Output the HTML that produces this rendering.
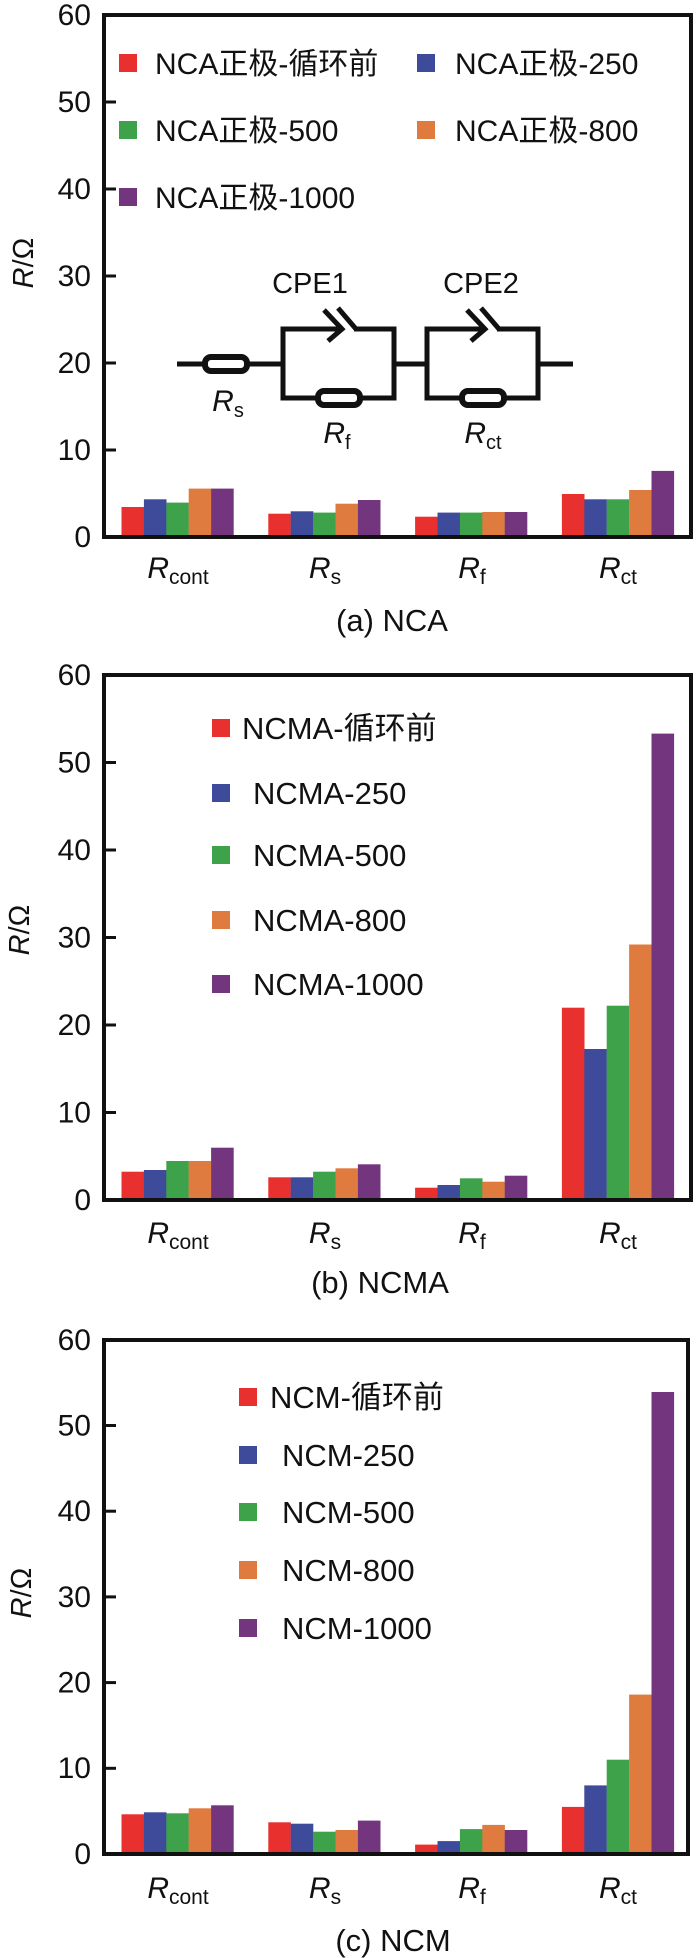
<!DOCTYPE html>
<html><head><meta charset="utf-8"><style>
html,body{margin:0;padding:0;background:#fff;}
svg{display:block;}
text{font-family:"Liberation Sans","Noto Sans CJK SC",sans-serif;fill:#111;}
.t{font-size:30px;text-anchor:end;}
.lg{font-size:30px;}
.lgb{font-size:31px;}
.xl{font-size:30px;text-anchor:middle;}
.cap{font-size:31px;text-anchor:middle;}
.r{fill:#e8312f}.b{fill:#3e4a9a}.g{fill:#3ea24a}.o{fill:#e07b3f}.p{fill:#74357f}
.ax{fill:none;stroke:#111;stroke-width:4}
.tk{stroke:#111;stroke-width:3}
.c{fill:none;stroke:#111;stroke-width:5;stroke-linejoin:miter}
</style></head><body>
<svg width="700" height="1958" viewBox="0 0 700 1958" xmlns="http://www.w3.org/2000/svg">
<rect width="700" height="1958" fill="#fff"/>

<!-- ===== Panel A ===== -->
<g>
<rect class="r" x="121.5" y="507" width="22.6" height="30"/>
<rect class="b" x="143.9" y="499.3" width="22.6" height="37.7"/>
<rect class="g" x="166.3" y="502.6" width="22.6" height="34.4"/>
<rect class="o" x="188.7" y="488.6" width="22.6" height="48.4"/>
<rect class="p" x="211.1" y="488.6" width="22.6" height="48.4"/>
<rect class="r" x="268.3" y="513.7" width="22.6" height="23.3"/>
<rect class="b" x="290.7" y="511.3" width="22.6" height="25.7"/>
<rect class="g" x="313.1" y="512.6" width="22.6" height="24.4"/>
<rect class="o" x="335.5" y="503.7" width="22.6" height="33.3"/>
<rect class="p" x="357.9" y="500" width="22.6" height="37"/>
<rect class="r" x="415.1" y="516.7" width="22.6" height="20.3"/>
<rect class="b" x="437.5" y="512.6" width="22.6" height="24.4"/>
<rect class="g" x="459.9" y="512.6" width="22.6" height="24.4"/>
<rect class="o" x="482.3" y="512" width="22.6" height="25"/>
<rect class="p" x="504.7" y="512" width="22.6" height="25"/>
<rect class="r" x="561.9" y="494" width="22.6" height="43"/>
<rect class="b" x="584.3" y="499.3" width="22.6" height="37.7"/>
<rect class="g" x="606.7" y="499.3" width="22.6" height="37.7"/>
<rect class="o" x="629.1" y="490" width="22.6" height="47"/>
<rect class="p" x="651.5" y="470.9" width="22.6" height="66.1"/>
<rect class="ax" x="104" y="15" width="587" height="522"/>
<line class="tk" x1="104" x2="116" y1="450" y2="450"/><line class="tk" x1="104" x2="116" y1="363" y2="363"/>
<line class="tk" x1="104" x2="116" y1="276" y2="276"/><line class="tk" x1="104" x2="116" y1="189" y2="189"/>
<line class="tk" x1="104" x2="116" y1="102" y2="102"/>
<text class="t" x="91" y="547">0</text><text class="t" x="91" y="460">10</text><text class="t" x="91" y="373">20</text>
<text class="t" x="91" y="286">30</text><text class="t" x="91" y="199">40</text><text class="t" x="91" y="112">50</text><text class="t" x="91" y="25">60</text>
<text transform="translate(33,263) rotate(-90)" style="font-size:29px;text-anchor:middle"><tspan font-style="italic">R</tspan>/Ω</text>
<!-- legend -->
<rect class="r" x="119" y="54" width="18" height="18"/><text class="lg" x="155" y="74">NCA正极-循环前</text>
<rect class="b" x="417" y="54" width="18" height="18"/><text class="lg" x="455" y="74">NCA正极-250</text>
<rect class="g" x="119" y="121" width="18" height="18"/><text class="lg" x="155" y="141">NCA正极-500</text>
<rect class="o" x="417" y="121" width="18" height="18"/><text class="lg" x="455" y="141">NCA正极-800</text>
<rect class="p" x="119" y="188" width="18" height="18"/><text class="lg" x="155" y="208">NCA正极-1000</text>
<!-- circuit -->
<line class="c" x1="177" y1="364" x2="283" y2="364"/>
<rect x="205" y="357" width="42" height="14" rx="6" fill="#fff" stroke="#111" stroke-width="6"/>
<path class="c" d="M283,364 V398 H394 V329 H354 M340,329 H283 V364"/>
<path class="c" d="M324,310 L342,329 L328,341 M338,308 L356,329"/>
<rect x="318" y="391" width="42" height="14" rx="6" fill="#fff" stroke="#111" stroke-width="6"/>
<line class="c" x1="394" y1="364" x2="427" y2="364"/>
<path class="c" d="M427,364 V398 H538 V329 H497 M483,329 H427 V364"/>
<path class="c" d="M467,310 L485,329 L471,341 M481,308 L499,329"/>
<rect x="462" y="391" width="42" height="14" rx="6" fill="#fff" stroke="#111" stroke-width="6"/>
<line class="c" x1="538" y1="364" x2="573" y2="364"/>
<text x="310" y="293" style="font-size:29px;text-anchor:middle">CPE1</text>
<text x="481" y="293" style="font-size:29px;text-anchor:middle">CPE2</text>
<text x="228" y="411" class="xl"><tspan font-style="italic">R</tspan><tspan font-size="20" dy="6">s</tspan></text>
<text x="337" y="443" class="xl"><tspan font-style="italic">R</tspan><tspan font-size="20" dy="6">f</tspan></text>
<text x="483" y="443" class="xl"><tspan font-style="italic">R</tspan><tspan font-size="20" dy="6">ct</tspan></text>
<!-- x labels -->
<text x="178" y="578" class="xl"><tspan font-style="italic">R</tspan><tspan font-size="21" dy="6">cont</tspan></text>
<text x="325" y="578" class="xl"><tspan font-style="italic">R</tspan><tspan font-size="21" dy="6">s</tspan></text>
<text x="472" y="578" class="xl"><tspan font-style="italic">R</tspan><tspan font-size="21" dy="6">f</tspan></text>
<text x="618" y="578" class="xl"><tspan font-style="italic">R</tspan><tspan font-size="21" dy="6">ct</tspan></text>
<text x="392" y="631" class="cap">(a) NCA</text>
</g>

<!-- ===== Panel B ===== -->
<g>
<rect class="r" x="121.5" y="1171.7" width="22.6" height="28.3"/>
<rect class="b" x="143.9" y="1170" width="22.6" height="30"/>
<rect class="g" x="166.3" y="1161" width="22.6" height="39"/>
<rect class="o" x="188.7" y="1161" width="22.6" height="39"/>
<rect class="p" x="211.1" y="1147.7" width="22.6" height="52.3"/>
<rect class="r" x="268.3" y="1177.3" width="22.6" height="22.7"/>
<rect class="b" x="290.7" y="1177.3" width="22.6" height="22.7"/>
<rect class="g" x="313.1" y="1171.7" width="22.6" height="28.3"/>
<rect class="o" x="335.5" y="1168.3" width="22.6" height="31.7"/>
<rect class="p" x="357.9" y="1164.3" width="22.6" height="35.7"/>
<rect class="r" x="415.1" y="1187.7" width="22.6" height="12.3"/>
<rect class="b" x="437.5" y="1185" width="22.6" height="15"/>
<rect class="g" x="459.9" y="1178.3" width="22.6" height="21.7"/>
<rect class="o" x="482.3" y="1181.7" width="22.6" height="18.3"/>
<rect class="p" x="504.7" y="1175.7" width="22.6" height="24.3"/>
<rect class="r" x="561.9" y="1007.7" width="22.6" height="192.3"/>
<rect class="b" x="584.3" y="1049" width="22.6" height="151"/>
<rect class="g" x="606.7" y="1005.7" width="22.6" height="194.3"/>
<rect class="o" x="629.1" y="944.5" width="22.6" height="255.5"/>
<rect class="p" x="651.5" y="733.6" width="22.6" height="466.4"/>
<rect class="ax" x="104" y="675" width="587" height="525"/>
<line class="tk" x1="104" x2="116" y1="1112.5" y2="1112.5"/><line class="tk" x1="104" x2="116" y1="1025" y2="1025"/>
<line class="tk" x1="104" x2="116" y1="937.5" y2="937.5"/><line class="tk" x1="104" x2="116" y1="850" y2="850"/>
<line class="tk" x1="104" x2="116" y1="762.5" y2="762.5"/>
<text class="t" x="91" y="1210">0</text><text class="t" x="91" y="1122.5">10</text><text class="t" x="91" y="1035">20</text>
<text class="t" x="91" y="947.5">30</text><text class="t" x="91" y="860">40</text><text class="t" x="91" y="772.5">50</text><text class="t" x="91" y="685">60</text>
<text transform="translate(29,930) rotate(-90)" style="font-size:29px;text-anchor:middle"><tspan font-style="italic">R</tspan>/Ω</text>
<rect class="r" x="212" y="719" width="18" height="18"/><text class="lgb" x="242" y="739">NCMA-循环前</text>
<rect class="b" x="212" y="784" width="18" height="18"/><text class="lgb" x="253" y="804">NCMA-250</text>
<rect class="g" x="212" y="846" width="18" height="18"/><text class="lgb" x="253" y="866">NCMA-500</text>
<rect class="o" x="212" y="911" width="18" height="18"/><text class="lgb" x="253" y="931">NCMA-800</text>
<rect class="p" x="212" y="975" width="18" height="18"/><text class="lgb" x="253" y="995">NCMA-1000</text>
<text x="178" y="1243" class="xl"><tspan font-style="italic">R</tspan><tspan font-size="21" dy="6">cont</tspan></text>
<text x="325" y="1243" class="xl"><tspan font-style="italic">R</tspan><tspan font-size="21" dy="6">s</tspan></text>
<text x="472" y="1243" class="xl"><tspan font-style="italic">R</tspan><tspan font-size="21" dy="6">f</tspan></text>
<text x="618" y="1243" class="xl"><tspan font-style="italic">R</tspan><tspan font-size="21" dy="6">ct</tspan></text>
<text x="380" y="1293" class="cap">(b) NCMA</text>
</g>

<!-- ===== Panel C ===== -->
<g>
<rect class="r" x="121.5" y="1814.3" width="22.6" height="39.7"/>
<rect class="b" x="143.9" y="1812.3" width="22.6" height="41.7"/>
<rect class="g" x="166.3" y="1813.3" width="22.6" height="40.7"/>
<rect class="o" x="188.7" y="1808.3" width="22.6" height="45.7"/>
<rect class="p" x="211.1" y="1805.3" width="22.6" height="48.7"/>
<rect class="r" x="268.3" y="1822.3" width="22.6" height="31.7"/>
<rect class="b" x="290.7" y="1823.7" width="22.6" height="30.3"/>
<rect class="g" x="313.1" y="1831.7" width="22.6" height="22.3"/>
<rect class="o" x="335.5" y="1830" width="22.6" height="24"/>
<rect class="p" x="357.9" y="1820.6" width="22.6" height="33.4"/>
<rect class="r" x="415.1" y="1844.6" width="22.6" height="9.4"/>
<rect class="b" x="437.5" y="1841.1" width="22.6" height="12.9"/>
<rect class="g" x="459.9" y="1829.1" width="22.6" height="24.9"/>
<rect class="o" x="482.3" y="1824.9" width="22.6" height="29.1"/>
<rect class="p" x="504.7" y="1830" width="22.6" height="24"/>
<rect class="r" x="561.9" y="1806.9" width="22.6" height="47.1"/>
<rect class="b" x="584.3" y="1785.4" width="22.6" height="68.6"/>
<rect class="g" x="606.7" y="1759.7" width="22.6" height="94.3"/>
<rect class="o" x="629.1" y="1694.6" width="22.6" height="159.4"/>
<rect class="p" x="651.5" y="1392" width="22.6" height="462"/>
<rect class="ax" x="104" y="1340" width="584" height="514"/>
<line class="tk" x1="104" x2="116" y1="1768.3" y2="1768.3"/><line class="tk" x1="104" x2="116" y1="1682.6" y2="1682.6"/>
<line class="tk" x1="104" x2="116" y1="1596.9" y2="1596.9"/><line class="tk" x1="104" x2="116" y1="1511.2" y2="1511.2"/>
<line class="tk" x1="104" x2="116" y1="1425.5" y2="1425.5"/>
<text class="t" x="91" y="1864">0</text><text class="t" x="91" y="1778">10</text><text class="t" x="91" y="1692.6">20</text>
<text class="t" x="91" y="1607">30</text><text class="t" x="91" y="1521">40</text><text class="t" x="91" y="1435.5">50</text><text class="t" x="91" y="1350">60</text>
<text transform="translate(31,1593) rotate(-90)" style="font-size:29px;text-anchor:middle"><tspan font-style="italic">R</tspan>/Ω</text>
<rect class="r" x="239" y="1388" width="18" height="18"/><text class="lgb" x="270" y="1408">NCM-循环前</text>
<rect class="b" x="239" y="1446" width="18" height="18"/><text class="lgb" x="282" y="1466">NCM-250</text>
<rect class="g" x="239" y="1503" width="18" height="18"/><text class="lgb" x="282" y="1523">NCM-500</text>
<rect class="o" x="239" y="1561" width="18" height="18"/><text class="lgb" x="282" y="1581">NCM-800</text>
<rect class="p" x="239" y="1619" width="18" height="18"/><text class="lgb" x="282" y="1639">NCM-1000</text>
<text x="178" y="1898" class="xl"><tspan font-style="italic">R</tspan><tspan font-size="21" dy="6">cont</tspan></text>
<text x="325" y="1898" class="xl"><tspan font-style="italic">R</tspan><tspan font-size="21" dy="6">s</tspan></text>
<text x="472" y="1898" class="xl"><tspan font-style="italic">R</tspan><tspan font-size="21" dy="6">f</tspan></text>
<text x="618" y="1898" class="xl"><tspan font-style="italic">R</tspan><tspan font-size="21" dy="6">ct</tspan></text>
<text x="393" y="1951" class="cap">(c) NCM</text>
</g>
</svg>
</body></html>
